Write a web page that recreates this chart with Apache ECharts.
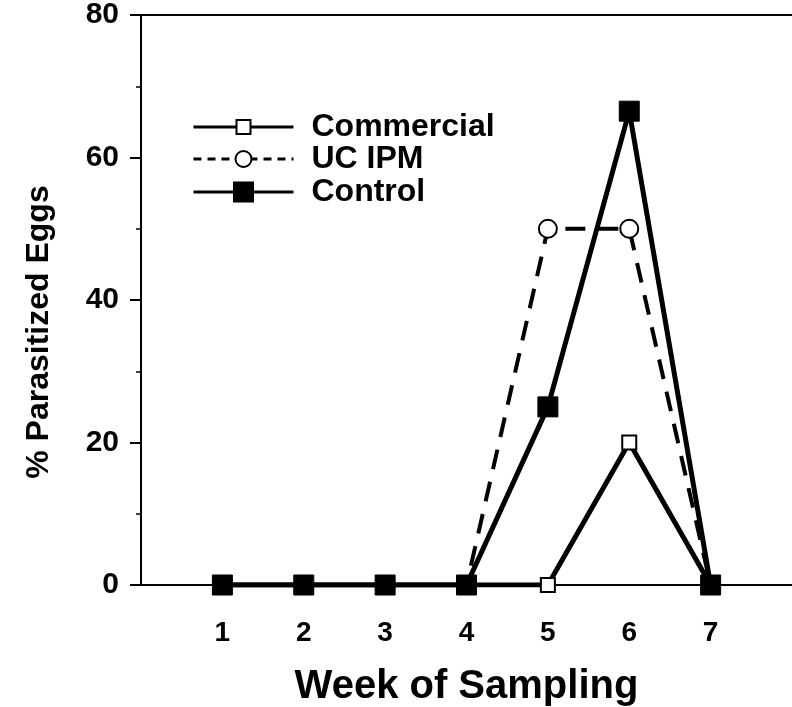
<!DOCTYPE html>
<html>
<head>
<meta charset="utf-8">
<script src="https://cdn.jsdelivr.net/npm/echarts@6/dist/echarts.min.js"></script>
<style>
html, body { margin: 0; padding: 0; background: #fff; }
#chart { width: 792px; height: 707px; }
</style>
</head>
<body>
<div id="chart"></div>
<script>
// data
const weeks = [1, 2, 3, 4, 5, 6, 7];
const commercial = [0, 0, 0, 0, 0, 20, 0];
const ucIpm = [0, 0, 0, 0, 50, 50, 0];
const control = [0, 0, 0, 0, 25, 66.5, 0];
const yTicks = [0, 20, 40, 60, 80];

const font = "'Liberation Sans', Arial, sans-serif";

function pairs(vals) {
    return weeks.map((w, i) => [w, vals[i]]);
}

function legendFor(name, centerY, symH, extraLine) {
    return {
        data: [name],
        orient: "vertical",
        left: 187,
        top: centerY - 16,
        itemWidth: 100,
        itemHeight: symH / 0.8,
        itemGap: 0,
        selectedMode: false,
        lineStyle: Object.assign({ width: 3 }, extraLine || {}),
        textStyle: {
            fontFamily: font,
            fontSize: 32,
            fontWeight: "bold",
            color: "#000",
            lineHeight: 32,
            padding: [0, 0, 0, 13]
        }
    };
}

const chart = echarts.init(document.getElementById("chart"));
chart.setOption({
    animation: false,
    backgroundColor: "#fff",
    grid: { left: 141, right: 0, top: 15, bottom: 122, outerBoundsMode: "none", containLabel: false },
    legend: [
        legendFor("Commercial", 122, 14),
        legendFor("UC IPM", 154, 16, { type: [8, 6] }),
        legendFor("Control", 187, 19)
    ],
    xAxis: [
        {
            type: "value",
            min: 0,
            max: 8,
            interval: 1,
            name: "Week of Sampling",
            nameLocation: "middle",
            nameGap: 82,
            nameTextStyle: { fontFamily: font, fontSize: 40, fontWeight: "bold", color: "#000" },
            axisLine: { show: true, onZero: false, lineStyle: { color: "#000", width: 2 } },
            axisTick: { show: false },
            splitLine: { show: false },
            axisLabel: {
                fontFamily: font,
                fontSize: 28,
                fontWeight: "bold",
                color: "#000",
                margin: 34,
                formatter: function (v) {
                    return weeks.indexOf(v) >= 0 ? String(v) : "";
                }
            }
        },
        {
            type: "value",
            position: "top",
            min: 0,
            max: 8,
            axisLine: { show: true, onZero: false, lineStyle: { color: "#000", width: 2 } },
            axisTick: { show: false },
            axisLabel: { show: false },
            splitLine: { show: false }
        }
    ],
    yAxis: {
        type: "value",
        min: 0,
        max: 80,
        interval: 20,
        name: "% Parasitized Eggs",
        nameLocation: "middle",
        nameGap: 86,
        nameTextStyle: {
            fontFamily: font,
            fontSize: 32,
            fontWeight: "bold",
            color: "#000",
            padding: [0, 64, 0, 0]
        },
        axisLine: { show: true, lineStyle: { color: "#000", width: 2 } },
        axisTick: { show: true, length: 11, lineStyle: { color: "#000", width: 2 } },
        minorTick: { show: true, splitNumber: 2, length: 5, lineStyle: { color: "#000", width: 1.5 } },
        splitLine: { show: false },
        axisLabel: {
            fontFamily: font,
            fontSize: 30,
            fontWeight: "bold",
            color: "#000",
            margin: 22,
            formatter: function (v) {
                return yTicks.indexOf(v) >= 0 ? String(v) : "";
            }
        }
    },
    series: [
        {
            name: "Commercial",
            type: "line",
            data: pairs(commercial),
            symbol: "rect",
            symbolSize: 14,
            lineStyle: { color: "#000", width: 5 },
            itemStyle: { color: "#fff", borderColor: "#000", borderWidth: 2 },
            z: 2
        },
        {
            name: "UC IPM",
            type: "line",
            data: pairs(ucIpm),
            symbol: "circle",
            symbolSize: 18,
            lineStyle: { color: "#000", width: 4, type: [20, 13] },
            itemStyle: { color: "#fff", borderColor: "#000", borderWidth: 2 },
            z: 3
        },
        {
            name: "Control",
            type: "line",
            data: pairs(control),
            symbol: "rect",
            symbolSize: 20,
            lineStyle: { color: "#000", width: 5 },
            itemStyle: { color: "#000", borderColor: "#000", borderWidth: 1 },
            z: 4
        }
    ]
});
</script>
</body>
</html>
